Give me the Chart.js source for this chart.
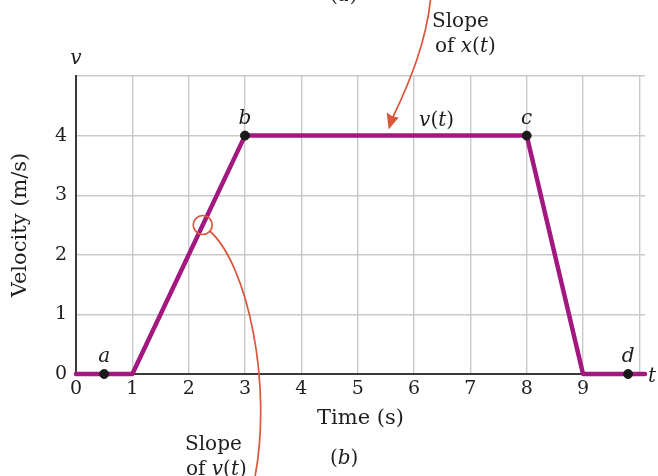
<!DOCTYPE html>
<html>
<head>
<meta charset="utf-8">
<script src="https://cdn.jsdelivr.net/npm/chart.js@4"></script>
<style>
  html, body { margin: 0; padding: 0; background: #fff; }
  #wrap { width: 658px; height: 476px; }
</style>
</head>
<body>
<div id="wrap"><canvas id="vel-chart"></canvas></div>
<script>
// velocity profile v(t)
const timeS = [0, 1, 3, 8, 9, 10.1];
const velocity = [0, 0, 4, 4, 0, 0];

// labelled points a..d
const markerT = [0.5, 3, 8, 9.8];
const markerV = [0, 4, 4, 0];
const markerNames = ["a", "b", "c", "d"];

const xTicks = [0, 1, 2, 3, 4, 5, 6, 7, 8, 9];
const yTicks = [0, 1, 2, 3, 4];

const SERIF = "'DejaVu Serif', 'Liberation Serif', serif";
const FS = 20;      // annotation text
const TICK_FS = 19;
const TITLE_FS = 21;
const INK = "#1e1e1e";
const PURPLE = "#a3187f";
const RED = "#d9573b";

// hand-drawn style callouts, labels and arrows
const annotations = {
  id: "annotations",
  afterDatasetsDraw(chart) {
    const { ctx, scales: { x, y }, chartArea } = chart;
    ctx.save();
    ctx.fillStyle = INK;
    ctx.textAlign = "center";
    ctx.textBaseline = "alphabetic";
    ctx.font = "italic " + FS + "px " + SERIF;

    // point letters
    markerT.forEach((t, i) => {
      ctx.fillText(markerNames[i], x.getPixelForValue(t), y.getPixelForValue(markerV[i]) - 12);
    });

    // axis letters
    ctx.fillText("v", chartArea.left, chartArea.top - 12);
    ctx.textAlign = "left";
    ctx.fillText("t", chartArea.right + 3, y.getPixelForValue(0) + 8);

    // v(t) label on the flat part
    const vx = x.getPixelForValue(6.4), vy = y.getPixelForValue(4) - 10;
    drawMixed(ctx, [["italic", "v"], ["", "("], ["italic", "t"], ["", ")"]], vx, vy);

    // slope of x(t) callout, arrow ending on the flat segment
    const tipX = x.getPixelForValue(5.55), tipY = y.getPixelForValue(4) - 6;
    ctx.strokeStyle = RED;
    ctx.fillStyle = RED;
    ctx.lineWidth = 1.7;
    ctx.beginPath();
    ctx.moveTo(tipX + 42, -2);
    ctx.bezierCurveTo(tipX + 38, 40, tipX + 22, 80, tipX + 4, tipY - 12);
    ctx.stroke();
    ctx.beginPath();
    ctx.moveTo(tipX, tipY);
    ctx.lineTo(tipX - 2, tipY - 17);
    ctx.lineTo(tipX + 4, tipY - 13);
    ctx.lineTo(tipX + 10, tipY - 12);
    ctx.closePath();
    ctx.fill();

    ctx.fillStyle = INK;
    drawMixed(ctx, [["", "Slope"]], 432, 27, true);
    drawMixed(ctx, [["", "of "], ["italic", "x"], ["", "("], ["italic", "t"], ["", ")"]], 435, 52, true);

    // slope of v(t) callout: circle on the ramp and curve down
    const cx = x.getPixelForValue(2.25), cy = y.getPixelForValue(2.5);
    ctx.strokeStyle = RED;
    ctx.lineWidth = 1.7;
    ctx.beginPath();
    ctx.arc(cx, cy, 9.5, 0, Math.PI * 2);
    ctx.stroke();
    ctx.beginPath();
    ctx.moveTo(cx + 7, cy + 6);
    ctx.bezierCurveTo(cx + 45, cy + 40, cx + 70, cy + 160, cx + 52, 478);
    ctx.stroke();

    ctx.fillStyle = INK;
    drawMixed(ctx, [["", "Slope"]], 185, 450, true);
    drawMixed(ctx, [["", "of "], ["italic", "v"], ["", "("], ["italic", "t"], ["", ")"]], 186, 475, true);

    // panel tags
    drawMixed(ctx, [["", "("], ["italic", "b"], ["", ")"]], 330, 464, true);
    drawMixed(ctx, [["", "("], ["italic", "a"], ["", ")"]], 330, 1, true);
    ctx.restore();
  }
};

// draws runs of roman/italic text; centred on x unless leftAlign
function drawMixed(ctx, parts, x0, y0, leftAlign) {
  const fonts = parts.map(p => (p[0] ? "italic " : "") + FS + "px " + SERIF);
  let total = 0;
  parts.forEach((p, i) => { ctx.font = fonts[i]; total += ctx.measureText(p[1]).width; });
  let cur = leftAlign ? x0 : x0 - total / 2;
  ctx.save();
  ctx.textAlign = "left";
  parts.forEach((p, i) => {
    ctx.font = fonts[i];
    ctx.fillText(p[1], cur, y0);
    cur += ctx.measureText(p[1]).width;
  });
  ctx.restore();
}

new Chart(document.getElementById("vel-chart"), {
  type: "line",
  data: {
    datasets: [
      {
        data: timeS.map((t, i) => ({ x: t, y: velocity[i] })),
        borderColor: PURPLE,
        borderWidth: 4.5,
        borderJoinStyle: "round",
        borderCapStyle: "round",
        pointRadius: 0,
        tension: 0,
        clip: false,
        order: 2
      },
      {
        data: markerT.map((t, i) => ({ x: t, y: markerV[i] })),
        showLine: false,
        pointRadius: 4.5,
        pointBackgroundColor: "#1a1a1a",
        pointBorderColor: "#1a1a1a",
        clip: false,
        order: 1
      }
    ]
  },
  options: {
    responsive: true,
    maintainAspectRatio: false,
    animation: false,
    events: [],
    layout: { padding: { top: 76, right: 13, left: 0, bottom: 0 } },
    plugins: { legend: { display: false }, tooltip: { enabled: false } },
    scales: {
      x: {
        type: "linear",
        min: 0,
        max: 10.1,
        afterBuildTicks: s => { s.ticks = xTicks.concat([10, 10.1]).map(v => ({ value: v })); },
        afterFit: s => { s.height = 102; },
        ticks: {
          padding: 4,
          color: INK,
          maxRotation: 0,
          autoSkip: false,
          font: { family: SERIF, size: TICK_FS },
          callback: v => (xTicks.includes(v) ? String(v) : "")
        },
        grid: {
          drawTicks: false,
          lineWidth: 1.4,
          color: c => (c.tick && c.tick.value > 10 ? "rgba(0,0,0,0)" : "#c9c9c9")
        },
        border: { color: "#3a3a3a", width: 2 },
        title: {
          display: true,
          text: "Time (s)",
          color: INK,
          font: { family: SERIF, size: TITLE_FS },
          padding: { top: 0, bottom: 45 }
        }
      },
      y: {
        min: 0,
        max: 5,
        afterBuildTicks: s => { s.ticks = yTicks.concat([5]).map(v => ({ value: v })); },
        afterFit: s => { s.width = 76; },
        ticks: {
          padding: 9,
          color: INK,
          font: { family: SERIF, size: TICK_FS },
          callback: v => (yTicks.includes(v) ? String(v) : "")
        },
        grid: { drawTicks: false, lineWidth: 1.4, color: "#c9c9c9" },
        border: { color: "#3a3a3a", width: 2 },
        title: {
          display: true,
          text: "Velocity (m/s)",
          color: INK,
          font: { family: SERIF, size: TITLE_FS },
          padding: { top: 8, bottom: 0 }
        }
      }
    }
  },
  plugins: [annotations]
});
</script>
</body>
</html>
